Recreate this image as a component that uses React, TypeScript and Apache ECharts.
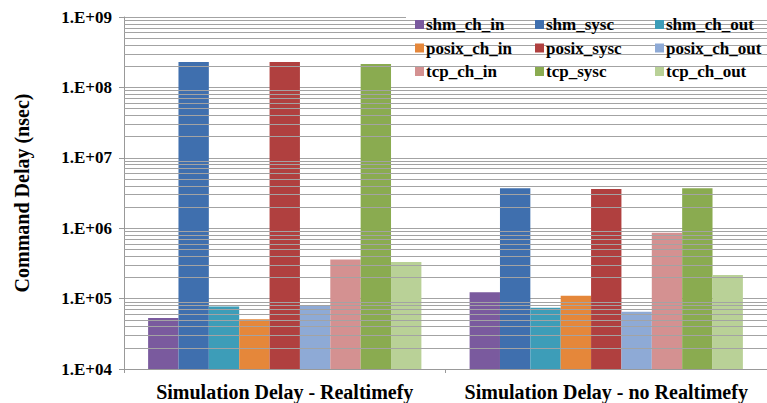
import React, { useEffect, useRef } from "react";
import * as echarts from "echarts";

const categories = ["Simulation Delay - Realtimefy", "Simulation Delay - no Realtimefy"];

const seriesNames = [
  "shm_ch_in", "shm_sysc", "shm_ch_out",
  "posix_ch_in", "posix_sysc", "posix_ch_out",
  "tcp_ch_in", "tcp_sysc", "tcp_ch_out",
];

const shm_ch_in = [53000, 123000];
const shm_sysc = [229000000, 3700000];
const shm_ch_out = [77000, 74000];
const posix_ch_in = [51000, 110000];
const posix_sysc = [230000000, 3600000];
const posix_ch_out = [81000, 65000];
const tcp_ch_in = [360000, 860000];
const tcp_sysc = [215000000, 3700000];
const tcp_ch_out = [330000, 216000];

const seriesValues = [
  shm_ch_in, shm_sysc, shm_ch_out,
  posix_ch_in, posix_sysc, posix_ch_out,
  tcp_ch_in, tcp_sysc, tcp_ch_out,
];

const seriesColors = [
  "#7a5a9e", "#3f6fae", "#3d9db8",
  "#e5873a", "#b0403f", "#8eaad6",
  "#d49191", "#8aab50", "#b9d197",
];

const yTickLabels = ["1.E+04", "1.E+05", "1.E+06", "1.E+07", "1.E+08", "1.E+09"];
const yMin = 1e4;
const yMax = 1e9;

// minor log gridlines (2..9 × each decade)
const minorGridValues: number[] = [];
for (let e = 4; e < 9; e++) {
  for (let k = 2; k <= 9; k++) minorGridValues.push(k * Math.pow(10, e));
}

const FONT = "Liberation Serif";
const GRID_COLOR = "#a3a3a3";

export default function App() {
  const ref = useRef<HTMLDivElement>(null);
  useEffect(() => {
    document.body.style.margin = "0";
    const chart = echarts.init(ref.current!, undefined, { renderer: "svg" });
    const barSeries = seriesNames.map((name, i) => ({
      name,
      type: "bar",
      data: seriesValues[i],
      barGap: "0%",
      barCategoryGap: "15%",
      itemStyle: { color: seriesColors[i] },
      z: 3,
      silent: true,
    }));
    const legendCol = (names: string[], left: number) => ({
      data: names,
      orient: "vertical",
      left,
      top: 16,
      padding: 0,
      itemGap: 6.5,
      itemWidth: 9,
      itemHeight: 9,
      icon: "rect",
      selectedMode: false,
      textStyle: { fontFamily: FONT, fontWeight: "bold", fontSize: 17, color: "#000", padding: [0, 0, 0, -3] },
      z: 10,
    });
    chart.setOption({
      animation: false,
      backgroundColor: "#fff",
      grid: { left: 124, right: 0, top: 17, bottom: 34 },
      legend: [
        legendCol([seriesNames[0], seriesNames[3], seriesNames[6]], 415),
        legendCol([seriesNames[1], seriesNames[4], seriesNames[7]], 535),
        legendCol([seriesNames[2], seriesNames[5], seriesNames[8]], 655),
      ],
      graphic: [
        {
          type: "rect",
          left: 406,
          top: 14,
          shape: { width: 361, height: 70 },
          style: { fill: "#fff" },
          z: 5,
          silent: true,
        },
      ],
      xAxis: {
        type: "category",
        data: categories,
        axisLine: { lineStyle: { color: "#999" } },
        axisTick: { show: true, length: 4, lineStyle: { color: "#999" } },
        axisLabel: {
          interval: 0,
          fontFamily: FONT,
          fontWeight: "bold",
          fontSize: 20,
          color: "#000",
          margin: 13,
        },
      },
      yAxis: {
        type: "log",
        logBase: 10,
        min: yMin,
        max: yMax,
        name: "Command Delay (nsec)",
        nameLocation: "middle",
        nameRotate: 90,
        nameGap: 92,
        nameTextStyle: { fontFamily: FONT, fontWeight: "bold", fontSize: 20, color: "#000" },
        axisLine: { show: true, lineStyle: { color: "#999" } },
        axisTick: { show: true, length: 5, lineStyle: { color: "#999" } },
        axisLabel: {
          fontFamily: FONT,
          fontWeight: "bold",
          fontSize: 17,
          color: "#000",
          margin: 12,
          formatter: (v: number) => {
            const idx = Math.round(Math.log10(v)) - 4;
            return yTickLabels[idx] ?? "";
          },
        },
        splitLine: { show: true, lineStyle: { color: GRID_COLOR, width: 1 } },
      },
      series: [
        {
          name: "grid",
          type: "line",
          data: [],
          silent: true,
          z: 1,
          markLine: {
            silent: true,
            symbol: ["none", "none"],
            label: { show: false },
            lineStyle: { color: GRID_COLOR, width: 1, type: "solid" },
            emphasis: { disabled: true },
            data: minorGridValues.map((v) => ({ yAxis: v })),
          },
        },
        ...barSeries,
      ],
    });
    return () => chart.dispose();
  }, []);
  return <div ref={ref} style={{ width: 767, height: 403 }} />;
}
